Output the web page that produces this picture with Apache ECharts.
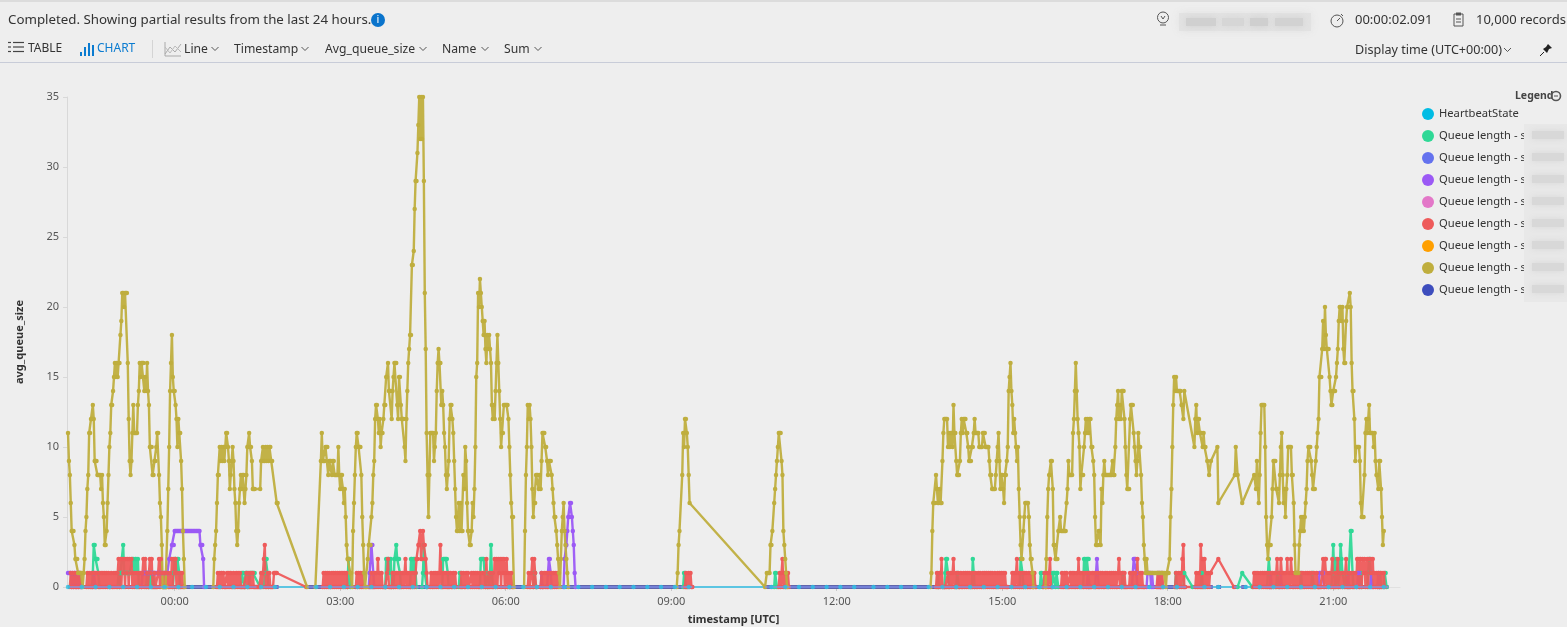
<!DOCTYPE html>
<html><head><meta charset="utf-8">
<style>html,body{margin:0;padding:0;background:#eee;overflow:hidden}#c{width:1567px;height:627px}</style>
<script src="https://cdn.jsdelivr.net/npm/echarts@6/dist/echarts.min.js"></script>
</head><body><div id="c"></div>
<script>
// minute 0 of the runs below is 22:04 UTC on the previous day
const FIRST_SAMPLE_OFFSET = -116;
const tickMinutes = [0,180,360,540,720,900,1080,1260];
const yTicks = [0,5,10,15,20,25,30,35];

const goldRuns = [
[0,[11,9,8,6,4,4,4,3,2,2,2,1,1,1,1,1,0,1,2,4,5,7,8,11,11,12,12,13,12,9,9,9,8,8,8,8,7,8,6,5,3,3,4,6,8,10,11,13,13,14,15,16,15,16,15,16,16,18,19,21,21,20,21,21,21,16,12,9,8,9,11,13,11,11,11,11,13,14,16,15,16,16,16,14,15,14,16,14,13,10,10,10,8,8,9,9,10,11,11,8,6,5,3,0,0,0,0,0,4,7,10,14,16,18,15,14,14,13,12,10,12,11,11,9,7,4,2,0]],
[158,[0,2,3,4,6,8,8,10,9,10,9,10,9,10,11,11,10,9,7,8,9,10,9,7,6,4,3,4,6,7,8,7,8,8,6,7,8,10,10,11,10,10,9,7,7,7]],
[209,[7,9,9,10,9,9,10,9,10,9,10,10,9,9]],
[227,[6,6]],[260,[0]],[269,[0]],
[275,[9,11,9,9,9,10,10,10,8,9,9,9,8,9,9,8,8,8,8,10,8,7,8,8,7,6,7,5,3,2,2,2,1,1,0]],
[310,[4,6,8,10,11,11,10,10,10,8,5,3,1,0,0,0]],
[326,[2,3,3,3,5,6,8,9,12,13,13,12,11,12,10,11,11,12,13,13,15,15,16,14,14,14,12,14,15,16,16,16,13,12,15,15,13,12,12,12,10,9,12,14,16,17,18,18,23,23,24,27,29,29,31,33,35,32,35,32,35,29,21,17,11,8,5,8,11,11,11,11,9,10,11,14,16,17,16,16,13,14,13,11,10,8,7,8,9,12,13,13,12,11,9,7,5,4,4,6,4,6,4,4,8,7,10,9,6,4,4,3,3,4,6,5,7,10,15,16,21,20,22,21,20,19,18,19,17,16,18,17,18,17,16,13,12,13,12,14,16,18,16,14,12,10,11,11,13,13,13,13,13,12,10,8,6,5,5,0]],
[496,[0,4,8,10,13,12,13,12,10,7,5,6,6,8,8,8,7,8,7,9,11,11,11,10,10,9,8,9,9,9,8,7,6,5,5,4,3,2,1,0]],
[536,[2,4,5,6,4,3,2,1,0]],
[662,[0,1,3,4]],[668,[8,11,10,12,12,11,10,8,6]],[758,[0]],
[760,[1,1,1,1,3,3,4]],[768,[6,7,8,9,10,11,11,11,9,8,4,3,2,1,0]],
[938,[0]],
[939,[1,4,6,6,6,8,7,6,6,7,6,6,9,11,12,12,12,12,10,11,10,11,11,10,13,11,11,9,8,8,8,9,11,12,11,12,12,12,11,11,10,9,9,9,10,10,11,12,11,11,11,11,10,10,10,10,11,11,11,10,10,10,10,9,8,8,7,7,7,7,8,9,10,11,9,7,8,8,7,6,8,8,9,10,14,15,16,14,13,11,12,11,10,9,10,7,5,3,2,2,4,5,6,6,6,6,5,3,2,2,1,0]],
[1063,[0]],
[1064,[2,5,7,8,8,9,9,7,3,3,2,2,2,4,4,5,4,4,4,4,4,4,6,7,9,8,8,8,8,11,12,14,16,14,12,11,10,7,8,8,8,10,11,12,11,12,11,12,12,10,10,9,8,5,3,3,3,4,4,3,7,6,8,9,8,8,8,8,8,8,8,8,9,8,8,10,12,13,14,12,13,12,14,14,14,12,10,8,7,7,7,12,13,13,13,11,10,9,8,9,11,10,10,8,6,5,3,2,1,2]],
[1174,[1,1,1,1,1,1,1,1,1,1,1,1,1,1,1,1,1,1,1,1,0,1,1,1]],
[1198,[2,5,7,10,13,15,14,15,14,14,14,14,14,13,13,12,14]],
[1225,[10,12,13,11,12,12,11,11,11,10,11,10,10]],
[1239,[9]],[1241,[8]],[1243,[9]],[1250,[10]],[1251,[6]],[1269,[8]],[1270,[10]],[1272,[8]],[1277,[6]],[1290,[8]],[1292,[7,9]],
[1294,[7,6,8,11,13,13,13,13,10,5,3,2,3,3,3,5,7,9,9,9,7,7,7,6,8,10,11,8,6,7,5,7,8,10,10,10,10,8,8,6,3,1,1,1,1,3,4,5,4,5,4,5,6,7,9,10,10,10,9,8,7,7,7,9,10,11,12,15,15,15,17,19,17,20,18,17,17,17,15,14,13,13,14,14,14,15,16,17,19,20,20,19,20,17,16,16,19,20,20,20,21,20,16,14,14,12,9,10,10,10,10,9,6,5,5,5,8,11,12,11,12,13,11,11,11,11,10,11,9,8,8,7,9,9,7,5,3,4]]
];

const redRuns = [
[2,[0,1,0,1,0,1,0,0,1,0,0,1,0]],
[20,[0,1,0,1,0,0,1,0,1,0,1,0,1,0,1,0,1,0,1,0,1,0,1,0,1,0,0,1,0,0,1,0,1,0,1,2,0,2,0,2,1,2,0,2,1,2,0,2,1,2,0,1,0,1,0,1,0,1,0,1,0,1,2,0,2,0,1,0,0,2,1,2,0,0,1,0,0,0,1,2,0,2,1,0,0,1,0,0,1,0,0,1,0,2,0,2,1,2,0,1,0,0,1,0,1,0,0]],
[162,[0,1,0,1,0,1,0,1,0,0,0,1,0,1,0,1,0,0,1,0,0,1,0,1,0,1,0,0,0,0,0,0,1,0,0,1,0,1,0,1,0,0,0,0,0,0,0,0,1,0,1,2,3,0,0,1,0,1,0,0,0,0,1]],
[225,[1,1,1]],[259,[0]],
[277,[0,1,0,1,0,1,0,1,0,0,1,0,1,0,1,0,1,0,1,0,1,0,1,0,1,0,1,0]],
[313,[0,1,0,1,0,1,0,1,0]],
[328,[0,0,1,0,0,1,0,1,0,2,0,1,0,1,0,0,0,0,0,1,2,0,0,0,0,1,0,1,0,1,0,1,0,0,1,0,1,0,1,2,0,1,0,1,0,0,1,0,1,0,1,2,2,3,3,4,2,2,4,3,3,2,1,0]],
[394,[0,1,0,0,1,0,1,0,1,0,1,3,0,1,0,1,0,1,0,0,1,0,1,0,0,1,0,1,0]],
[427,[0,1,0,1,0,0,1,0,1,0]],
[438,[0,1,0,1,0,1,0,1,0,0,1,0,0,1,0,1,0,2,0,0,1,0,1,0]],
[462,[1,0,2,0,2,0,2,1,2,0,2,1,2,0,1,2,0,1,0,0,1,0,0]],
[500,[0,1,0,0,1,2,0,2,1,0,0]],
[514,[0,1,0,0,1,0,1,0,1,0,1,0,1,0,1,0,1,0,1,0]],
[671,[0,1,0,0,1,0,1,0,0]],
[700,[null]],
[773,[0,1,0,1,2,0,1,0,1,0,1,0]],
[944,[0,1,0,0,1,0,2,0,0,0,0,0,0,1,0,0,1,0,1,2,0,0,1,0,1,0,0]],
[971,[1,0,0,1,0,1,0,1,0,1,0,0,1,0,1,0,1,0,0,1,0,1,0,0,1,0,1,0,1,0,1,0,1,0,1,0,0]],
[1008,[1,0,0,1,0,1,0,1,0,1,0,1,0,0,0]],
[1026,[0,1,0,1,0,1,2,0,1,0,1,0,1,0,1,0,1,0,0,1,0,0,1,0,0,1,0,0]],
[1061,[0,1,0,0,1,0,1,2,0,0]],
[1080,[0,1,0,0,1,0,1,0,0,0,1,0,1,0,1,0,0,1,0,2,0,1,0,1,0,1,0,1,0,1,0]],
[1111,[1,0,0,1,0,1,0,0,1,0,1,0,1,0,1,0,0,1,0,1,0]],
[1132,[0,1,0,1,0,1,0,1,0,0,1,2,0,1,0,1,0,1,0,0,0]],
[1154,[0,1,0,1,0,1,0,1,0,2,0,0,1,0,1,0,0,0]],
[1184,[0,1,0,1,0,0,1,0]],
[1204,[0,1,0,0,1,0,1,0,2,3,0,0]],
[1226,[0,1,0,0,1,0,3,0,2,0,2,0,1,0,1,0,1,1]],
[1251,[2]],[1268,[0]],[1278,[null]],
[1289,[0,1,0,1,0,1,0,0,1,0,1,0,1,0,1,0,1,0,0,1,0,1,0,1,0,1,2,0,1,0,2,1,0,1,0,1,0,2,0,1,0,2,1,0,0,1,0,1,0,1,0,0,1,0,1,0,0,1,0,1,0,1,0,1,0,0,1,0,0,1,0,0]],
[1361,[0,0,0,1,2,0,2,2,0,1,0,1,0,1,2,0,0,1,0,1,2,0,1,0,1,0,1,0,1,2,0,1,0,1,0,1,0,1,0,1,0,2,2,0,2,2,0,2,1,2,0,1,2,0,2,1,2,1,2,0,1,0,1,0,1,0,1,0,1,0,1,0]]
];

const greenRuns = [
[26,[0,1,3,3,2,2,2,1,0]],
[54,[0,1,0,1,1,1,3,1,1,1,1,1,1,1,1,1,2,2,1,2,2,1,2,0]],
[85,[0,1,1,0,1,1,0,1,1,0]],
[114,[0,1,2,2,1,2,2,1,0]],
[188,[0,1,1,1,0,1,1,1,1,0,1,1,1,1,1,1]],[209,[0]],
[213,[0,1,2,2,1,0]],[240,[null]],
[304,[0,2,2,0]],
[345,[0,2,1,2,2,1,2,0,1,0,2,2,3,2,2,2,1,0]],
[372,[0,2,2,1,2,2,1,0]],
[385,[0,1,3,1,1,0]],
[407,[0,2,2,2,2,2,1,0]],
[425,[0,1,1,0]],
[448,[0,2,2,2,2,1,0]],
[456,[0,1,0,1,3,1,0]],
[506,[0,1,1,0]],
[669,[0,1,1,0]],[700,[null]],[768,[0,1,1,0]],
[945,[0,1,0]],[953,[0,1,2,2,1,0]],[966,[0,1,1,0]],
[983,[0,2,1,0]],[1035,[0,2,2,1,0]],[1057,[0,1,1,0]],[1070,[0,1,1,1,0,1,1,0]],[1104,[0,2,2,1,2,2,2,0]],[1146,[0,1,1,0]],
[1204,[0,1,0]],[1213,[0,1]],[1223,[0]],[1232,[0,1,0]],[1250,[null]],
[1272,[0]],[1277,[1]],[1288,[0]],
[1304,[0,1,2,1,0]],[1314,[0,1,1,0]],[1340,[0,1,0]],[1352,[0,1,1,0]],
[1374,[0,1,3,1,0,2,1,0,0,1,3,2,1,1]],[1389,[0,1,1,0]],[1394,[0,4,4,1,0]],[1405,[0,1,0]],[1413,[0,1,2,2,1,0]],[1426,[0,1,0]],[1431,[0,1,1,0]]
];

const purpleRuns = [
[0,[1,1,1,1,0,1,0,1,1,0,1,0,1,1,0,0]],
[27,[0,1,1,0]],
[80,[0,1,1,1,1,1,1,1,1,1,1,1,1,1,1,1,1,1,1,1,1,1,1,1,1,1,1,1,1,1]],
[110,[2,2,2,3,3,3,4,4,4,4,4,4,4,4,4,4,4,4,4,4,4,4,4,4,4,4,4,4,4,4,4,4,4,4,3,3,3,2,0]],
[240,[null]],
[327,[0,1,1,3,3,1,0]],
[514,[0,1,0]],[521,[0,1,2,2,1,0]],
[539,[0,2,2,3,4,5,5,6,6,5,4,3,1,0]],
[700,[null]],
[1108,[0,1,0]],[1117,[0,1,2,1,0]],[1157,[0,1,2,2,2,1,0]],[1173,[0,1,1,1,1,0,1,0]],[1185,[0,1,0]],[1188,[0,1,0]],[1200,[null]],
[1307,[0,1,0]],[1318,[0,1,0]],[1360,[0,1,1,1,1,1,0]],[1391,[0,1,0]],[1402,[0,1,1,0]],[1416,[0,1,1,0]],[1424,[0,1,0]]
];

// spans (first, last minute) in which the flat zero-valued series report
const zeroSpans = [[0,205],[209,229],[260,679],[758,1216],[1223,1245],[1249,1254],[1268,1272],[1276,1282],[1289,1436]];

const heartbeatMinutes = [0,15,30,45,60,75,90,105,120,135,150,165,180,195,210,225,
270,285,300,315,330,345,360,375,390,405,420,435,450,465,480,495,510,525,540,555,570,585,600,615,630,645,660,675,
765,780,795,810,825,840,855,876,891,906,921,936,951,966,981,996,1011,1026,1041,1056,1071,1086,1101,1116,1131,1146,1161,1176,1191,1206,1236,1251,1281,1296,1311,1326,1341,1356,1371,1386,1401,1416,1431];

const colors = {hb:'#00bce4',green:'#2fd896',blue:'#6472ee',purple:'#9b59f5',pink:'#e377c8',red:'#ee5a5a',orange:'#ff9f00',gold:'#bfae3e',navy:'#3d4dbd'};
const names = ['HeartbeatState','Queue length - s01','Queue length - s02','Queue length - s03','Queue length - s04','Queue length - s05','Queue length - s06','Queue length - s07','Queue length - s08'];

const expand = runs => runs.flatMap(([s,vals]) => vals.map((v,i)=>[s+i+FIRST_SAMPLE_OFFSET,v]));
const spanLine = () => zeroSpans.flatMap(([a,b]) => [[a+FIRST_SAMPLE_OFFSET,0],[b+FIRST_SAMPLE_OFFSET,0],[b+FIRST_SAMPLE_OFFSET,null]]);
const hbData = heartbeatMinutes.map(m=>[m+FIRST_SAMPLE_OFFSET,0]);

const lineS = (name,data,color,extra) => Object.assign({
  name,type:'line',data,clip:false,animation:false,showSymbol:true,symbol:'circle',symbolSize:4.5,
  connectNulls:false,itemStyle:{color},lineStyle:{color,width:2.4,opacity:.95},emphasis:{disabled:true}
},extra||{});
const flat = (name,color,extra) => lineS(name,spanLine(),color,Object.assign({showSymbol:false},extra||{}));

const series = [
  lineS(names[0],hbData,colors.hb,{showSymbol:false,lineStyle:{color:'#5cc5e2',width:2.2},z:2.5}),
  lineS(names[1],expand(greenRuns),colors.green),
  flat(names[2],colors.blue,{lineStyle:{color:'#8793e0',width:1.3},z:3.2}),
  lineS(names[3],expand(purpleRuns),colors.purple),
  flat(names[4],colors.pink,{z:1}),
  lineS(names[5],expand(redRuns),colors.red),
  flat(names[6],colors.orange,{z:1}),
  lineS(names[7],expand(goldRuns),colors.gold),
  flat(names[8],colors.navy,{lineStyle:{color:colors.navy,width:3.4},z:3}),
  {type:'scatter',data:hbData,symbol:'circle',symbolSize:4.5,itemStyle:{color:'#2cc3e4'},z:4,clip:false,animation:false,silent:true}
];

const FONT = '"Noto Sans", sans-serif';
const g = [];
const txt = (x,y,text,size,fill,align) => g.push({type:'text',z:50,style:{x,y,text,fill:fill||'#333',font:(size||13)+'px '+FONT,align:align||'left',verticalAlign:'middle'}});
const pl = (pts,stroke,w) => g.push({type:'polyline',z:50,shape:{points:pts},style:{stroke:stroke||'#555',lineWidth:w||1,fill:null}});
const rect = (x,y,w,h,fill,blur) => g.push({type:'rect',z:blur?60:50,shape:{x,y,width:w,height:h},style:Object.assign({fill},blur?{shadowBlur:blur,shadowColor:fill}:{})});
const circ = (cx,cy,r,fill,stroke,lw) => g.push({type:'circle',z:50,shape:{cx,cy,r},style:{fill:fill||null,stroke:stroke||null,lineWidth:lw||1}});
const chev = (x,y) => pl([[x,y-2],[x+3.5,y+1.5],[x+7,y-2]],'#555',1);

rect(0,0,1567,2,'#dcdcdc');
rect(0,62,1567,1,'#c8ccd8');
txt(8,20.5,'Completed. Showing partial results from the last 24 hours.',13.3,'#333');
circ(378,20,7,'#0a74cc');
txt(378,20,'i',11,'#fff','center');
[42.5,47,51.5].forEach(y=>{pl([[8,y],[11,y]],'#444',1.2);pl([[13,y],[24,y]],'#444',1.2)});
txt(28,48.5,'TABLE',12,'#333');
[[80,52,4],[84,47,9],[88,43,13],[92,45,11]].forEach(([x,y,h])=>rect(x,y,2,h,'#0a7bd0'));
txt(97,48.5,'CHART',12,'#0a7bd0');
rect(152,40,1,18,'#d4d4d4');
pl([[165,42],[165,56],[181,56]],'#aaa',1);
pl([[165,54],[170,47],[175,52],[181,44]],'#aaa',1);
pl([[165,47],[170,53],[175,46],[181,52]],'#bbb',1);
[[184,'Line',211.5],[234,'Timestamp',301.5],[325,'Avg_queue_size',419.5],[442,'Name',481.5],[504,'Sum',534.5]].forEach(([x,t,cx])=>{txt(x,49.5,t,12.2,'#333');chev(cx,49)});
circ(1163,17.5,5.5,null,'#555',1); pl([[1160,25],[1166,25]],'#555',1); pl([[1161,16],[1163,19],[1165,16]],'#555',1);
rect(1179,13,132,18,'#e2e2e2',8);
[[1186,30,'#d0d0d0'],[1222,22,'#d6d6d6'],[1250,18,'#cfcfcf'],[1275,28,'#d2d2d2']].forEach(([x,w,c])=>rect(x,18,w,8,c,7));
circ(1337,21,6,null,'#555',1); pl([[1337,21],[1340,18]],'#555',1); pl([[1341,14],[1343,16]],'#555',1);
txt(1355,20.5,'00:00:02.091',13,'#333');
pl([[1456,14],[1454,14],[1454,26],[1463,26],[1463,14],[1461,14]],'#555',1); rect(1456,12.5,5,3,'#555');
pl([[1456,19],[1461,19]],'#555',1); pl([[1456,22],[1461,22]],'#555',1);
txt(1476,20.5,'10,000 records',13,'#333');
txt(1355,50.5,'Display time (UTC+00:00)',12.6,'#333');
chev(1504,50);
g.push({type:'polygon',z:50,shape:{points:[[1548,44],[1552,48],[1549,49],[1547,53],[1543,49],[1546,47]]},style:{fill:'#222'}});
pl([[1544,52],[1540,56]],'#222',1);
g.push({type:'text',z:50,style:{x:1515,y:96,text:'Legend',fill:'#444',font:'bold 10.5px '+FONT,align:'left',verticalAlign:'middle'}});
circ(1556,96,4.5,null,'#555',1.6); pl([[1554,96],[1558,96]],'#555',1);
rect(1524,124,43,178,'#e8e8e8');
[135,157,179,201,223,245,267,289].forEach(y=>rect(1532,y-4,32,8,'#d8d8d8',6));

const chart = echarts.init(document.getElementById('c'));
chart.setOption({
  animation:false,
  backgroundColor:'#eeeeee',
  textStyle:{fontFamily:FONT},
  grid:{left:67,right:167,top:97,bottom:40,containLabel:false,outerBoundsMode:'none'},
  legend:{data:names,orient:'vertical',left:1417,top:103,icon:'circle',itemWidth:12,itemHeight:12,itemGap:10,
    selectedMode:false,textStyle:{color:'#333',fontSize:11.2,fontFamily:FONT},formatter:n=>n},
  xAxis:{type:'value',min:-117.1,max:1332.6,name:'timestamp [UTC]',nameLocation:'middle',nameGap:27,
    nameTextStyle:{fontWeight:'bold',fontSize:11,color:'#333',fontFamily:FONT},
    splitLine:{show:false},
    axisLine:{show:true,onZero:false,lineStyle:{color:'#e0e0e0'}},
    axisTick:{show:true,length:4,lineStyle:{color:'#c8c8c8'},customValues:tickMinutes},
    axisLabel:{color:'#555',fontSize:11,margin:9,customValues:tickMinutes,
      formatter:v=>String(Math.floor(v/60)).padStart(2,'0')+':'+String(v%60).padStart(2,'0')}},
  yAxis:{type:'value',min:0,max:35,interval:5,name:'avg_queue_size',nameLocation:'middle',nameGap:42,
    nameTextStyle:{fontWeight:'bold',fontSize:11,color:'#333',fontFamily:FONT},
    splitLine:{show:false},
    axisLine:{show:true,onZero:false,lineStyle:{color:'#d8d8d8'}},
    axisTick:{show:true,length:4,lineStyle:{color:'#d8d8d8'}},
    axisLabel:{color:'#555',fontSize:11,margin:8}},
  series,
  graphic:{elements:g}
});
</script></body></html>
